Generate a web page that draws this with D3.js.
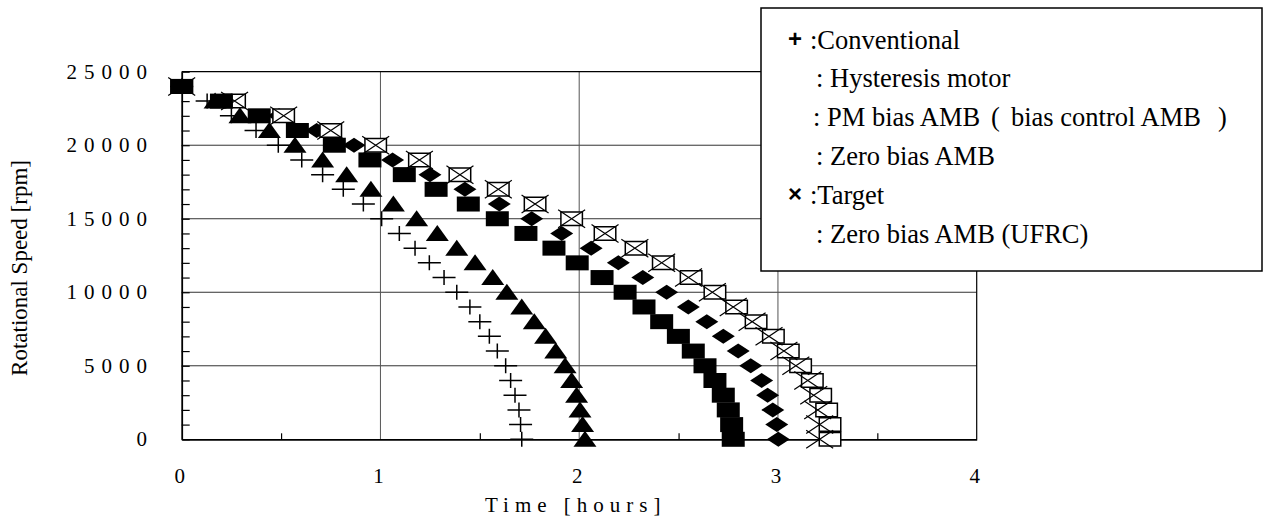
<!DOCTYPE html>
<html><head><meta charset="utf-8">
<script src="https://cdn.jsdelivr.net/npm/d3@7/dist/d3.min.js"></script>
</head>
<body style="margin:0">
<svg id="c" width="1264" height="516" font-family="Liberation Serif"></svg>
<script>
// ---- data ----
const speeds = [24000,23000,22000,21000,20000,19000,18000,17000,16000,15000,14000,13000,12000,11000,10000,9000,8000,7000,6000,5000,4000,3000,2000,1000,0];
const conventional = [0,0.128,0.25,0.374,0.486,0.604,0.709,0.813,0.914,1.006,1.095,1.174,1.246,1.32,1.384,1.45,1.50,1.548,1.588,1.63,1.655,1.677,1.697,1.705,1.711];
const hysteresis   = [0,0.168,0.293,0.441,0.57,0.709,0.83,0.952,1.065,1.182,1.286,1.384,1.476,1.565,1.636,1.711,1.774,1.831,1.882,1.929,1.962,1.987,2.004,2.017,2.029];
const pmBias       = [0,0.2,0.39,0.582,0.768,0.947,1.12,1.28,1.442,1.588,1.732,1.873,1.99,2.115,2.231,2.326,2.415,2.499,2.574,2.633,2.683,2.725,2.75,2.767,2.775];
const zeroBias     = [0,0.25,0.49,0.679,0.867,1.061,1.249,1.425,1.598,1.761,1.912,2.06,2.197,2.32,2.44,2.549,2.642,2.725,2.8,2.863,2.918,2.948,2.974,2.994,3.002];
const target       = [0,0.266,0.513,0.75,0.976,1.196,1.40,1.593,1.778,1.962,2.13,2.28,2.415,2.55,2.67,2.775,2.87,2.955,3.03,3.09,3.15,3.18,3.2,3.21,3.21];
const ufrc         = [0,0.266,0.513,0.75,0.976,1.196,1.40,1.593,1.778,1.962,2.13,2.286,2.423,2.563,2.683,2.792,2.89,2.977,3.052,3.114,3.173,3.215,3.245,3.262,3.262];
const xTicks = [0,1,2,3,4];
const xMinor = [0.5,1.5,2.5,3.5];
const yTicks = [0,5000,10000,15000,20000,25000];
const yMinor = d3.range(0,25001,1000);
const legendItems = [
  {sym:"+", parts:[":Conventional"]},
  {sym:"",  parts:[": Hysteresis motor"]},
  {sym:"",  parts:[": PM bias AMB","(","bias control AMB",")"]},
  {sym:"",  parts:[": Zero bias AMB"]},
  {sym:"\u00D7", parts:[":Target"]},
  {sym:"",  parts:[": Zero bias AMB (UFRC)"]}
];

// ---- layout ----
const SERIF = "Liberation Serif";
const SANS = "Liberation Sans";
const svg = d3.select("#c");
const L=181.7, R=976.7, T=71.7, B=439.3;
const x = d3.scaleLinear().domain([0,4]).range([L,R]);
const y = d3.scaleLinear().domain([0,25000]).range([B,T]);

// grid
const g = svg.append("g");
g.selectAll(".hg").data(yTicks.filter(d=>d>0&&d<25000)).enter().append("line")
  .attr("x1",L).attr("x2",R).attr("y1",d=>y(d)).attr("y2",d=>y(d))
  .attr("stroke","#333").attr("stroke-width",1);
g.selectAll(".vg").data(xTicks.filter(d=>d>0&&d<4)).enter().append("line")
  .attr("y1",T).attr("y2",B).attr("x1",d=>x(d)).attr("x2",d=>x(d))
  .attr("stroke","#555").attr("stroke-width",1);
g.append("line").attr("x1",L).attr("x2",R).attr("y1",T).attr("y2",T).attr("stroke","#000").attr("stroke-width",1.2);
g.append("line").attr("x1",R).attr("x2",R).attr("y1",T).attr("y2",B).attr("stroke","#000").attr("stroke-width",1.2);

// axes via d3
const yAx = svg.append("g").attr("transform",`translate(${L},0)`)
  .call(d3.axisLeft(y).tickValues(yMinor).tickSizeInner(-8).tickSizeOuter(0).tickFormat(""));
yAx.select(".domain").attr("stroke","#000").attr("stroke-width",1.8);
yAx.selectAll(".tick line").attr("stroke","#000").attr("stroke-width",1.2);
const xAx = svg.append("g").attr("transform",`translate(0,${B})`)
  .call(d3.axisBottom(x).tickValues(xMinor).tickSizeInner(-6).tickSizeOuter(0).tickFormat(""));
xAx.select(".domain").attr("stroke","#000").attr("stroke-width",1.8);
xAx.selectAll(".tick line").attr("stroke","#000").attr("stroke-width",1.2);
yAx.attr("font-family",null); xAx.attr("font-family",null);

function serif(sel, size){
  return sel.attr("font-family",SERIF).attr("font-size",size)
    .style("font-family",SERIF,"important").style("font-size",size+"px","important");
}

// tick labels
serif(svg.selectAll(".yl").data(yTicks).enter().append("text")
  .attr("x",154).attr("y",d=>y(d)+7).attr("text-anchor","end")
  .style("letter-spacing","7px"), 21)
  .text(d=>String(d));
serif(svg.selectAll(".xl").data(xTicks).enter().append("text")
  .attr("x",d=>x(d)-2).attr("y",483).attr("text-anchor","middle"), 21)
  .text(d=>String(d));
// axis titles
serif(svg.append("text").attr("x",485).attr("y",512).style("letter-spacing","6px"), 21)
  .text("Time [hours]");
serif(svg.append("text").attr("transform","translate(27,268) rotate(-90)").attr("text-anchor","middle"), 23)
  .text("Rotational Speed [rpm]");

// markers
const W=23, H=15;
const pts = arr => arr.map((t,i)=>({t, v:speeds[i]}));
const mk = svg.append("g");
function poly(data, fn, fill, stroke){
  mk.append("g").selectAll("path").data(data).enter().append("path")
    .attr("d", d=>fn(x(d.t), y(d.v)))
    .attr("fill", fill).attr("stroke", stroke||"none").attr("stroke-width",1.5);
}
const diamond = (cx,cy)=>`M${cx},${cy-H/2}L${cx+W/2},${cy}L${cx},${cy+H/2}L${cx-W/2},${cy}Z`;
const rect = (cx,cy)=>`M${cx-W/2},${cy-H/2}h${W}v${H}h${-W}Z`;
const rectO = (cx,cy)=>`M${cx-W/2+0.75},${cy-H/2+0.75}h${W-1.5}v${H-1.5}h${-(W-1.5)}Z`;
const tri = (cx,cy)=>`M${cx},${cy-H/2-1}L${cx+W/2},${cy+H/2}L${cx-W/2},${cy+H/2}Z`;
const plus = (cx,cy)=>`M${cx-W/2},${cy}H${cx+W/2}M${cx},${cy-H/2}V${cy+H/2}`;
const XW=27, XH=18;
const cross = (cx,cy)=>`M${cx-XW/2},${cy-XH/2}L${cx+XW/2},${cy+XH/2}M${cx+XW/2},${cy-XH/2}L${cx-XW/2},${cy+XH/2}`;

poly(pts(zeroBias), diamond, "#000");
poly(pts(ufrc), rectO, "#fff", "#000");
mk.append("g").selectAll("path").data(pts(target)).enter().append("path")
  .attr("d", d=>cross(x(d.t), y(d.v))).attr("fill","none").attr("stroke","#000").attr("stroke-width",1.2);
poly(pts(pmBias), rect, "#000");
mk.append("g").selectAll("path").data(pts(conventional)).enter().append("path")
  .attr("d", d=>plus(x(d.t), y(d.v))).attr("fill","none").attr("stroke","#000").attr("stroke-width",1.5);
poly(pts(hysteresis), tri, "#000");

// legend
const lg = svg.append("g");
lg.append("rect").attr("x",761).attr("y",8).attr("width",501).attr("height",263)
  .attr("fill","#fff").attr("stroke","#000").attr("stroke-width",1.5);
const rowY = i => 48.5 + i*38.9;
lg.selectAll(".ls").data(legendItems.filter(d=>d.sym)).enter().append("text")
  .attr("x",788).attr("y",(d)=>rowY(legendItems.indexOf(d))-2)
  .attr("font-family",SANS).attr("font-size",24).attr("font-weight","bold")
  .text(d=>d.sym);
const partX = [null, 991, 1011, 1218];
const lt = serif(lg.selectAll(".lt").data(legendItems).enter().append("text")
  .attr("x",(d,i)=> d.sym ? 810 : (i===2?813:816)).attr("y",(d,i)=>rowY(i)), 26.5);
lt.each(function(d){
  const t = d3.select(this);
  d.parts.forEach((p,j)=>{
    const ts = t.append("tspan").text(p);
    if (j>0) ts.attr("x", partX[j]);
  });
});
</script>
</body></html>
